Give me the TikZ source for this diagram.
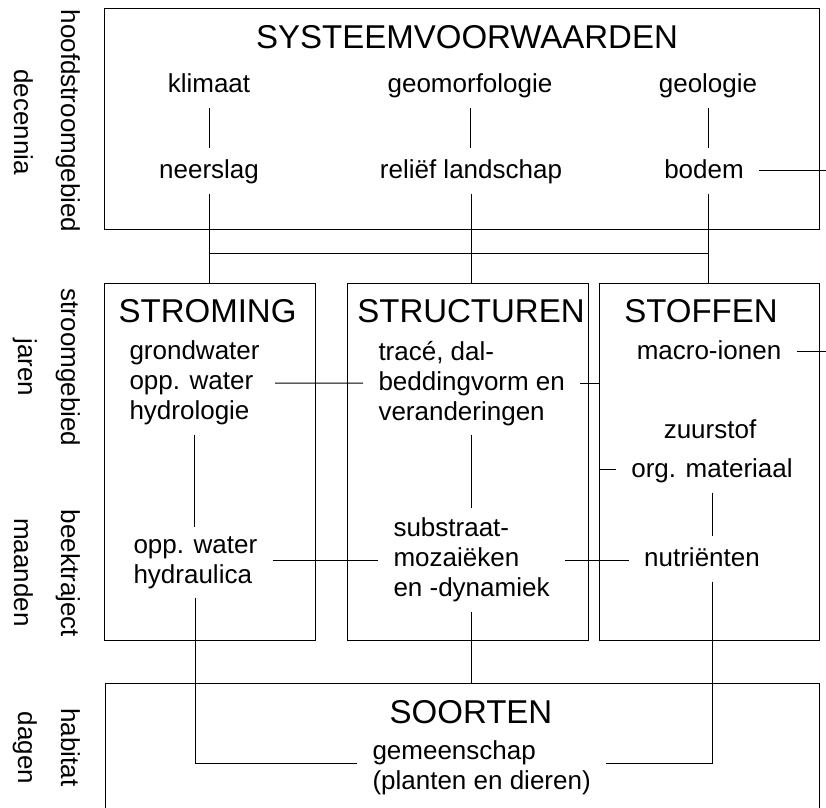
\documentclass[tikz,border=0pt]{standalone}
\usepackage{fontspec}
\setmainfont{Liberation Sans}

\begin{document}
\begin{tikzpicture}[x=1pt,y=-1pt,line width=1pt,
    box/.style={draw,anchor=north west,inner sep=0pt},
    kop/.style={anchor=base,inner sep=0pt,font=\fontsize{33}{38}\selectfont},
    txt/.style={anchor=base,inner xsep=15pt,inner ysep=9pt,text height=21pt,text depth=6pt,font=\fontsize{26}{30}\selectfont},
    blok/.style={anchor=north west,align=left,inner xsep=15pt,inner ysep=9pt,font=\fontsize{26}{30}\selectfont},
    zij/.style={anchor=base,rotate=-90,inner sep=0pt,font=\fontsize{26}{30}\selectfont}]
    \useasboundingbox (0,0) rectangle (826,807);

    \node[box,minimum width=715pt,minimum height=221pt] (sys) at (104,8) {};
    \node[box,minimum width=211pt,minimum height=357pt] (stroming) at (104,283) {};
    \node[box,minimum width=241pt,minimum height=357pt] (structuren) at (347,283) {};
    \node[box,minimum width=220pt,minimum height=357pt] (stoffen) at (599,283) {};
    \node[box,minimum width=714pt,minimum height=140pt] (soorten) at (105,683) {};

    \node[kop] (systitel) at (467,48) {SYSTEEMVOORWAARDEN};
    \node[kop] (stromtitel) at (207.5,322) {STROMING};
    \node[kop] (structtitel) at (471,322) {STRUCTUREN};
    \node[kop] (stoftitel) at (701,322) {STOFFEN};
    \node[kop] (soorttitel) at (471,723) {SOORTEN};

    \node[txt] (klimaat) at (209,92) {klimaat};
    \node[txt] (geomorf) at (470,92) {geomorfologie};
    \node[txt] (geologie) at (708,92) {geologie};
    \node[txt] (neerslag) at (209,178) {neerslag};
    \node[txt] (relief) at (471,178) {reliëf landschap};
    \node[txt] (bodem) at (704,178) {bodem};
    \node[txt] (macro) at (709,359) {macro-ionen};
    \node[txt] (zuurstof) at (710,438) {zuurstof};
    \node[txt] (orgmat) at (712,477) {org. materiaal};
    \node[txt] (nutrient) at (702,566) {nutriënten};

    \node[blok] (stromtop) at (114,331.4) {grondwater\\opp. water\\hydrologie};
    \node[blok] (structop) at (363,331.4) {tracé, dal-\\beddingvorm en\\veranderingen};
    \node[blok] (hydr) at (118,527) {opp. water\\hydraulica};
    \node[blok] (mozaiek) at (378,508.4) {substraat-\\mozaiëken\\en -dynamiek};
    \node[blok] (gemeen) at (357,731.4) {gemeenschap\\(planten en dieren)};

    \node[zij] (hoofd) at (61,121) {hoofdstroomgebied};
    \node[zij] (decennia) at (14,122) {decennia};
    \node[zij] (stroomgeb) at (61,367.5) {stroomgebied};
    \node[zij] (jaren) at (18,367.5) {jaren};
    \node[zij] (beektraject) at (61,573.5) {beektraject};
    \node[zij] (maanden) at (14,572.5) {maanden};
    \node[zij] (habitat) at (61,747.5) {habitat};
    \node[zij] (dagen) at (18,748) {dagen};

    \coordinate (bus) at (0,253);
    \coordinate (rand) at (826,0);

    \draw (klimaat.south) -- (klimaat.south |- neerslag.north);
    \draw (geomorf.south) -- (geomorf.south |- relief.north);
    \draw (geologie.south) -- (geologie.south |- bodem.north);
    \draw (neerslag.south) -- (neerslag.south |- stroming.north);
    \draw (relief.south) -- (relief.south |- structuren.north);
    \draw (geologie.south |- bodem.south) -- (geologie.south |- stoffen.north);
    \draw (neerslag.south |- bus) -- (geologie.south |- bus);
    \draw (bodem.east) -- (bodem.east -| rand);
    \draw (macro.east) -- (macro.east -| rand);
    \draw (stromtop.east) -- (structop.west);
    \draw (structop.east) -- (structop.east -| stoffen.west) |- (orgmat.west);
    \draw (stromtop.south) -- (stromtop.south |- hydr.north);
    \draw (structop.south) -- (structop.south |- mozaiek.north);
    \draw (orgmat.south) -- (orgmat.south |- nutrient.north);
    \draw (mozaiek.west) -- (mozaiek.west -| hydr.east);
    \draw (mozaiek.east) -- (mozaiek.east -| nutrient.west);
    \draw (hydr.south) |- ([yshift=5pt]gemeen.west);
    \draw (orgmat.south |- nutrient.south) |- ([yshift=5pt]gemeen.east);
    \draw (mozaiek.south) -- (mozaiek.south |- soorten.north);
\end{tikzpicture}
\end{document}
